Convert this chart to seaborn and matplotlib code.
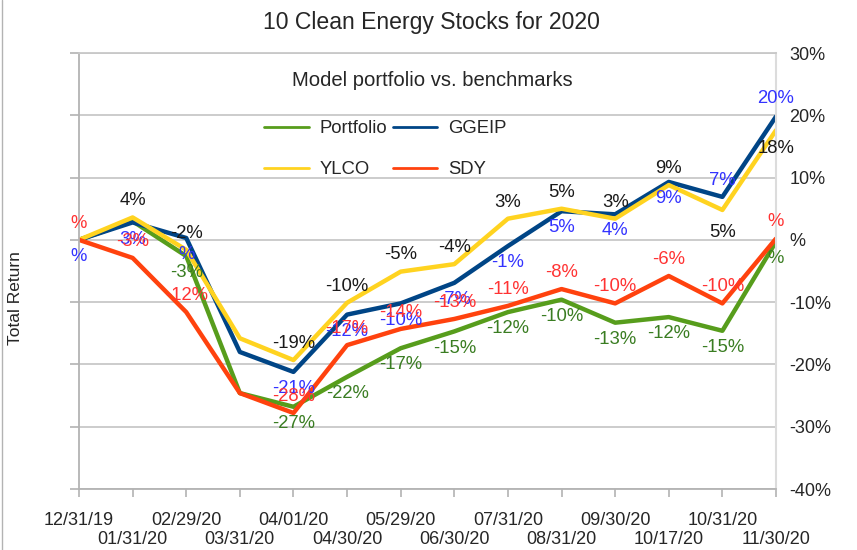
import pandas as pd
import matplotlib.pyplot as plt
import seaborn as sns
from matplotlib.lines import Line2D
from matplotlib.ticker import FuncFormatter

## chart data
dates = ["12/31/19", "01/31/20", "02/29/20", "03/31/20", "04/01/20", "04/30/20", "05/29/20",
         "06/30/20", "07/31/20", "08/31/20", "09/30/20", "10/17/20", "10/31/20", "11/30/20"]
portfolio = [0, 3.0, -2.6, -24.6, -26.8, -22.0, -17.4, -14.7, -11.6, -9.6, -13.3, -12.4, -14.6, -0.3]
ggeip = [0, 2.8, 0.3, -18.0, -21.2, -12.0, -10.2, -6.9, -1.0, 4.6, 4.1, 9.3, 6.9, 19.8]
ylco = [0, 3.6, -1.6, -15.8, -19.3, -10.1, -5.1, -3.9, 3.4, 5.0, 3.4, 8.8, 4.8, 17.6]
sdy = [0, -2.9, -11.6, -24.6, -27.8, -16.9, -14.3, -12.7, -10.6, -7.9, -10.2, -5.8, -10.2, 0.2]
series_names = ["Portfolio", "GGEIP", "YLCO", "SDY"]
y_ticks = [30, 20, 10, 0, -10, -20, -30, -40]

## styles
line_colors = {"Portfolio": "#579d1c", "GGEIP": "#004586", "YLCO": "#ffd320", "SDY": "#ff420e"}
label_colors = {"Portfolio": "#3a7d22", "GGEIP": "#3333ff", "YLCO": "#1a1a1a", "SDY": "#ff3333"}
label_dy = {"Portfolio": -12, "GGEIP": -12, "YLCO": 12, "SDY": 12}
label_dy_override = {("YLCO", 12): -16, ("GGEIP", 12): 12, ("GGEIP", 13): 13, ("YLCO", 13): -13}
label_skip = {("YLCO", 0), ("Portfolio", 0), ("Portfolio", 1)} | {(s, 3) for s in series_names}

##build long-form frame for seaborn
values = {"Portfolio": portfolio, "GGEIP": ggeip, "YLCO": ylco, "SDY": sdy}
rows = []
for name in series_names:
    for i, v in enumerate(values[name]):
        rows.append({"idx": i, "ret": v, "series": name})
df = pd.DataFrame(rows)

sns.set_style("white")
plt.rcParams["font.family"] = ["Liberation Sans", "DejaVu Sans"]

fig = plt.figure(figsize=(8.57, 5.5), dpi=100)
ax = fig.add_axes([79 / 857, 1 - 489 / 550, (776 - 79) / 857, (489 - 53) / 550])

sns.lineplot(data=df, x="idx", y="ret", hue="series", hue_order=series_names,
             palette=line_colors, linewidth=3.2, ax=ax, legend=False)

## data labels
def pct(v):
    r = int(round(v))
    return "%" if r == 0 else f"{r}%"

for name in series_names:
    for i, v in enumerate(values[name]):
        if (name, i) in label_skip:
            continue
        dy = label_dy_override.get((name, i), label_dy[name])
        ax.annotate(pct(v), (i, v), xytext=(0, dy), textcoords="offset points",
                    ha="center", va="center", fontsize=13.3, color=label_colors[name])

## axes styling
ax.set_xlim(0, len(dates) - 1)
ax.set_ylim(-40, 30)
ax.set_yticks(y_ticks)
ax.yaxis.set_major_formatter(FuncFormatter(lambda v, p: pct(v)))
ax.set_xticks(range(len(dates)))
ax.set_xticklabels([d if i % 2 == 0 else "\n" + d for i, d in enumerate(dates)])
ax.set_xlabel("")
ax.set_ylabel("")
ax.grid(axis="y", color="#c8c8c8", linewidth=1.3)
ax.grid(axis="x", visible=False)
for s in ["left", "bottom"]:
    ax.spines[s].set_color("#b3b3b3")
    ax.spines[s].set_linewidth(1.3)
ax.spines["right"].set_color("#dcdcdc")
ax.spines["right"].set_linewidth(1.5)
ax.spines["top"].set_color("#c8c8c8")
ax.spines["top"].set_linewidth(1.3)
ax.tick_params(axis="y", left=True, right=False, labelleft=False, labelright=True,
               length=6.5, width=1.2, color="#b3b3b3", labelsize=13, pad=3)
ax.tick_params(axis="x", bottom=True, length=6, width=1.2, color="#b3b3b3",
               labelsize=13, pad=10.5)
for t in ax.get_xticklabels():
    t.set_linespacing(1.15)

## legend, 2 columns in rows (Portfolio, GGEIP) / (YLCO, SDY)
order = ["Portfolio", "YLCO", "GGEIP", "SDY"]
handles = [Line2D([], [], color=line_colors[n], linewidth=2) for n in order]
ax.legend(handles, order, ncol=2, frameon=False, fontsize=13.3, loc="upper left",
          bbox_to_anchor=(255 / 857, 1 - 111 / 550), bbox_transform=fig.transFigure,
          handlelength=2.4, handletextpad=0.6, columnspacing=0.3, labelspacing=1.3,
          borderpad=0)

## titles
fig.text(431 / 857, 1 - 23 / 550, "10 Clean Energy Stocks for 2020", ha="center", va="center", fontsize=16.6)
fig.text(432 / 857, 1 - 80 / 550, "Model portfolio vs. benchmarks", ha="center", va="center", fontsize=14.6)
fig.text(16 / 857, 1 - 298 / 550, "Total Return", rotation=90, ha="center", va="center", fontsize=12.5)

## page edge line at far left
fig.add_artist(Line2D([1.5 / 857, 1.5 / 857], [0, 1], color="#b3b3b3", linewidth=1))

fig.savefig("out.png", dpi=100)
